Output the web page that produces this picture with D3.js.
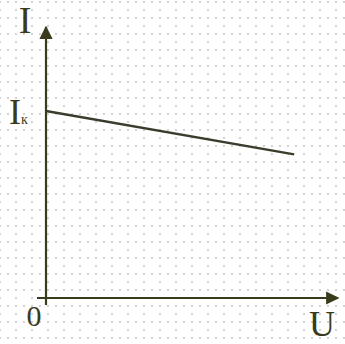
<!DOCTYPE html>
<html>
<head>
<meta charset="utf-8">
<script src="https://cdn.jsdelivr.net/npm/d3@7"></script>
<style>
  body { margin: 0; background: #fff; }
  svg { display: block; }
  text { font-family: "Liberation Serif", "DejaVu Serif", serif; fill: #3a3a1c; }
</style>
</head>
<body>
<div id="chart"></div>
<script>
// data: the I(U) line and the axis labels
const lineU = [0, 8.5];
const lineI = [6.9, 5.3];
const axisNames = ["U", "I"];
const originLabel = "0";
const ikLabel = ["I", "к"];

const width = 345, height = 344;
const ink = "#3a3a1c";

const svg = d3.select("#chart").append("svg")
  .attr("width", width).attr("height", height);

// dotted paper background
const grid = svg.append("g").attr("fill", "#d2d2d2");
for (let j = 0; j * 8 + 2 < height; j++) {
  const y = j * 8 + 2;
  const step = j % 2 === 0 ? 8 : 16;
  for (let x = 0; x < width; x += step) {
    grid.append("rect").attr("x", x - 1).attr("y", y - 1)
      .attr("width", 2).attr("height", 2);
  }
}

// scales
const x = d3.scaleLinear().domain([0, 10]).range([46, 338]);
const y = d3.scaleLinear().domain([0, 10]).range([298, 27]);

// arrow marker
svg.append("defs").append("marker")
  .attr("id", "arrow").attr("viewBox", "0 0 10 10")
  .attr("refX", 9).attr("refY", 5)
  .attr("markerWidth", 6).attr("markerHeight", 6)
  .attr("markerUnits", "strokeWidth")
  .attr("orient", "auto")
  .append("path").attr("d", "M0,0 L10,5 L0,10 z").attr("fill", ink);

const axes = svg.append("g").attr("stroke", ink).attr("stroke-width", 2.2);
// U axis
axes.append("line")
  .attr("x1", x(0) - 9).attr("y1", y(0))
  .attr("x2", x(10)).attr("y2", y(0))
  .attr("marker-end", "url(#arrow)");
// I axis
axes.append("line")
  .attr("x1", x(0)).attr("y1", y(0) + 7)
  .attr("x2", x(0)).attr("y2", y(10))
  .attr("marker-end", "url(#arrow)");

// the I(U) line
const pts = lineU.map((u, i) => [u, lineI[i]]);
svg.append("path")
  .datum(pts)
  .attr("fill", "none")
  .attr("stroke", "#3b3b2e")
  .attr("stroke-width", 2.4)
  .attr("d", d3.line().x(d => x(d[0])).y(d => y(d[1])));

// labels
svg.append("text").attr("x", x(10) - 3).attr("y", y(0) + 38)
  .attr("text-anchor", "end").attr("font-size", 36).text(axisNames[0]);
svg.append("text").attr("x", x(0) - 21).attr("y", y(10) + 6)
  .attr("text-anchor", "middle").attr("font-size", 38).text(axisNames[1]);
svg.append("text").attr("x", x(0) - 12).attr("y", y(0) + 28)
  .attr("text-anchor", "middle").attr("font-size", 30).text(originLabel);

const ik = svg.append("text").attr("x", 9).attr("y", y(lineI[0]) + 13)
  .attr("font-size", 36);
ik.append("tspan").text(ikLabel[0]);
ik.append("tspan").attr("font-size", 14).attr("dy", 0).text(ikLabel[1]);
</script>
</body>
</html>
